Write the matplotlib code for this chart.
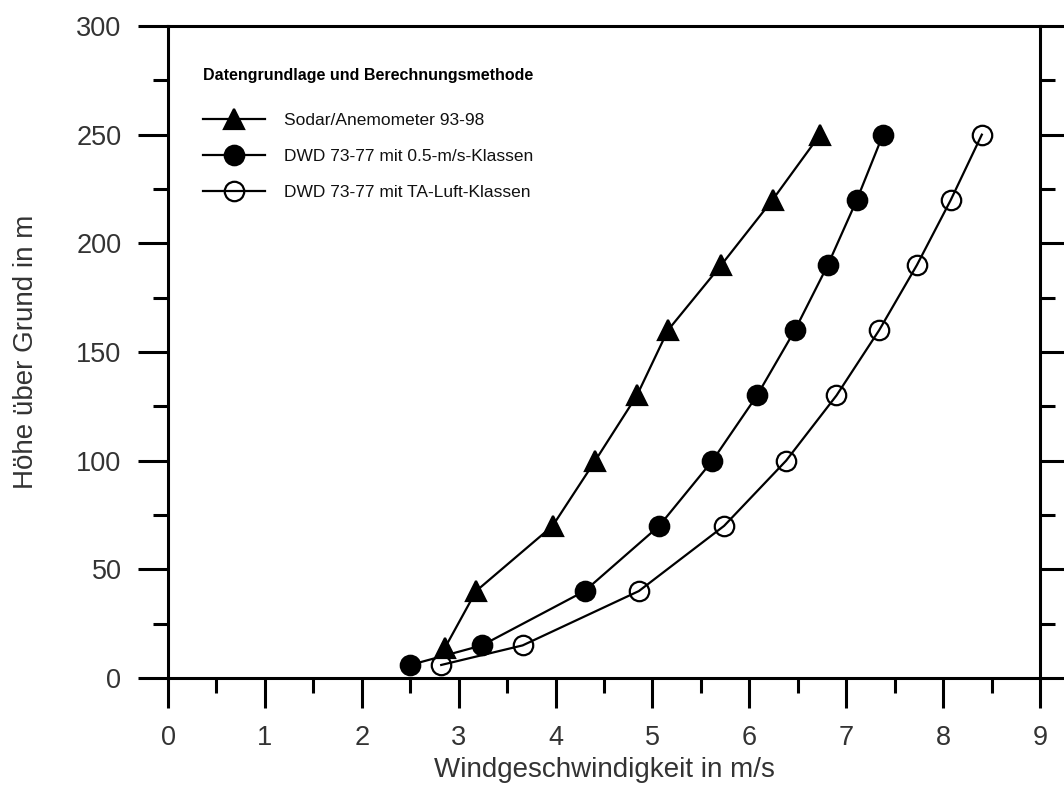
import matplotlib.pyplot as plt
from matplotlib.legend_handler import HandlerTuple
from matplotlib.ticker import MultipleLocator

plt.rcParams['font.family'] = ['Liberation Sans', 'DejaVu Sans']

# wind speed profiles (m/s) against height above ground (m)
sodar_v = [2.86, 3.18, 3.97, 4.41, 4.84, 5.16, 5.71, 6.24, 6.73]
sodar_h = [14, 40, 70, 100, 130, 160, 190, 220, 250]

dwd_h = [6, 15, 40, 70, 100, 130, 160, 190, 220, 250]
dwd_05_v = [2.50, 3.24, 4.30, 5.07, 5.62, 6.08, 6.47, 6.81, 7.11, 7.38]
dwd_ta_v = [2.82, 3.66, 4.86, 5.74, 6.38, 6.90, 7.34, 7.73, 8.08, 8.40]

labels = ["Sodar/Anemometer 93-98",
          "DWD 73-77 mit 0.5-m/s-Klassen",
          "DWD 73-77 mit TA-Luft-Klassen"]
legend_title = "Datengrundlage und Berechnungsmethode"

txt_color = '#333333'

fig = plt.figure(figsize=(10.64, 7.85), dpi=100)
ax = fig.add_axes([0.1579, 0.1363, 0.8195, 0.8306])

series = [
    (sodar_v, sodar_h, dict(marker='^', mfc='k', mec='k')),
    (dwd_05_v, dwd_h, dict(marker='o', mfc='k', mec='k')),
    (dwd_ta_v, dwd_h, dict(marker='o', mfc='none', mec='k')),
]

handles = []
for v, h, mk in series:
    # markers underneath, connecting line drawn on top of them
    m, = ax.plot(v, h, ls='none', ms=14, mew=1.6, zorder=2, **mk)
    l, = ax.plot(v, h, color='k', lw=1.6, zorder=3)
    handles.append((m, l))

ax.set_xlim(0, 9)
ax.set_ylim(0, 300)
ax.xaxis.set_major_locator(MultipleLocator(1))
ax.xaxis.set_minor_locator(MultipleLocator(0.5))
ax.yaxis.set_major_locator(MultipleLocator(50))
ax.yaxis.set_minor_locator(MultipleLocator(25))

for s in ax.spines.values():
    s.set_linewidth(2.2)
ax.tick_params(which='both', direction='out', width=2.2, left=True, right=True,
               bottom=True, top=False, labelsize=19.5, labelcolor=txt_color)
ax.tick_params(which='major', length=21.5, pad=12)
ax.tick_params(which='minor', length=10.8)

ax.set_xlabel("Windgeschwindigkeit in m/s", fontsize=20, color=txt_color, labelpad=5)
ax.set_ylabel("Höhe über Grund in m", fontsize=20, color=txt_color, labelpad=27)

leg = ax.legend(handles, labels, handler_map={tuple: HandlerTuple(ndivide=1)},
                title=legend_title, loc='upper left', bbox_to_anchor=(0.04, 0.936),
                frameon=False, fontsize=12.5, borderpad=0, borderaxespad=0,
                handlelength=3.6, handletextpad=1.05, labelspacing=1.2,
                alignment='left', title_fontproperties={'weight': 'bold', 'size': 11.5})
# a little more room between the title and the first entry
leg._legend_box.sep = 22
for t in leg.get_texts():
    t.set_color('#111111')

fig.savefig('out.png', dpi=100)
